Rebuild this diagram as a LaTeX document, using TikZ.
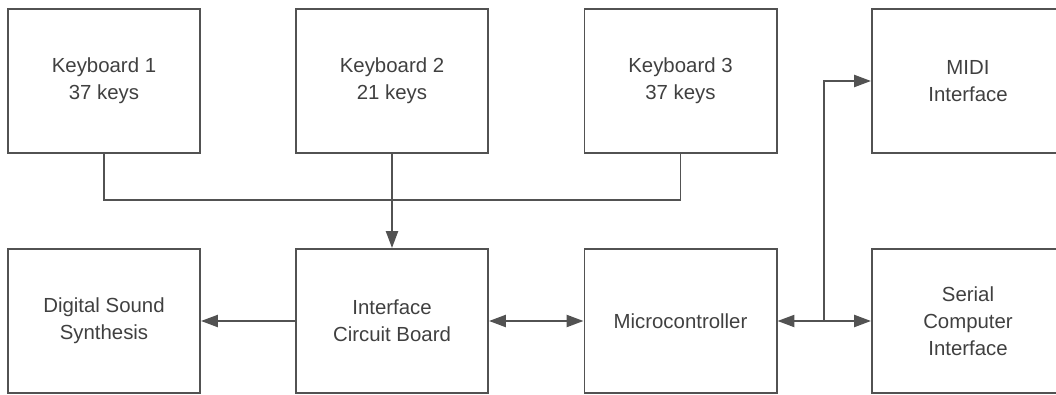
\documentclass[tikz,border=0pt]{standalone}
\usepackage{fontspec}
\setmainfont{Liberation Sans}
\usetikzlibrary{arrows.meta}

\begin{document}
\begin{tikzpicture}[
    x=0.025cm, y=-0.025cm,
    block/.style={
        rectangle,
        draw=black!68,
        line width=1.4pt,
        minimum width=4.8cm,
        minimum height=3.6cm,
        text=black!75,
        font=\fontsize{14.5}{19}\selectfont,
        align=center
    },
    wire/.style={line width=1.4pt, draw=black!68},
    flow/.style={wire, -{Triangle[length=0.42cm, width=0.3cm]}},
    both/.style={wire, {Triangle[length=0.42cm, width=0.3cm]}-{Triangle[length=0.42cm, width=0.3cm]}}
]
\clip (0,0) rectangle (1056,394);

% Keyboards
\node[block] (kb1) at (104, 81) {Keyboard 1\\37 keys};
\node[block] (kb2) at (392, 81) {Keyboard 2\\21 keys};
\node[block] (kb3) at (680.5, 81) {Keyboard 3\\37 keys};
\node[block] (midi) at (968, 81) {MIDI\\Interface};

% Bottom row
\node[block] (dss) at (104, 321) {Digital Sound\\Synthesis};
\node[block] (icb) at (392, 321) {Interface\\Circuit Board};
\node[block] (mcu) at (680.5, 321) {Microcontroller};
\node[block] (sci) at (968, 321) {Serial\\Computer\\Interface};

% Keyboard bus
\coordinate (bus) at (392, 200);
\draw[wire] (kb1.south) |- (bus) -| (kb3.south);
\draw[flow] (kb2.south) -- (icb.north);

% Signal path
\draw[flow] (icb.west) -- (dss.east);
\draw[both] (icb.east) -- (mcu.west);
\draw[both] (mcu.east) -- (sci.west);

% Branch to MIDI
\coordinate (split) at (824, 321);
\draw[flow] (split) |- (midi.west);

\end{tikzpicture}
\end{document}
